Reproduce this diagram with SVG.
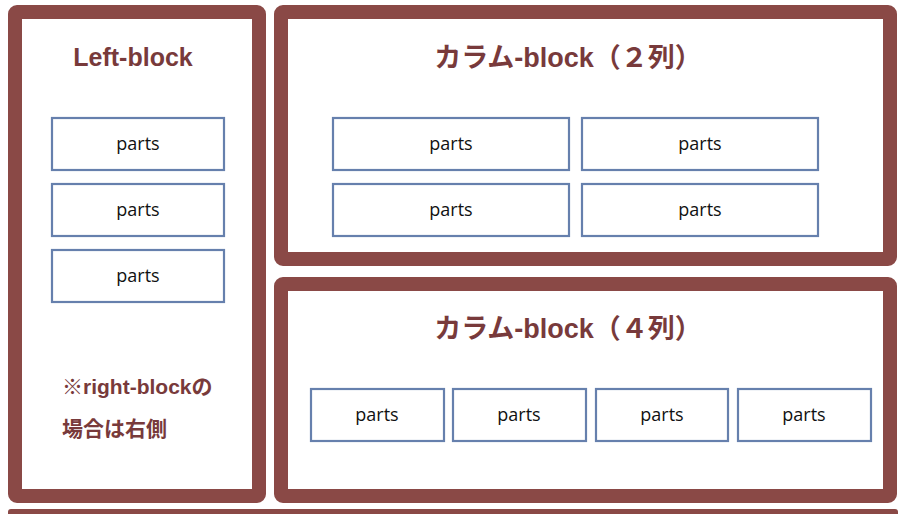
<svg xmlns="http://www.w3.org/2000/svg" width="910" height="514" viewBox="0 0 910 514">
<style>
.blk{fill:#fff;stroke:#8a4946;stroke-width:14;stroke-linejoin:round}
.prt{fill:#fff;stroke:#6680ad;stroke-width:2.2}
.ttl{font-family:"Liberation Sans","Noto Sans CJK JP",sans-serif;font-weight:bold;fill:#783a3b}
.pt{font-family:"Open Sans","Liberation Sans",sans-serif;font-size:18px;fill:#111;text-anchor:middle}
</style>
<rect width="910" height="514" fill="#fff"/>
<g id="left-block">
<rect class="blk" x="15" y="12" width="244" height="484" rx="2"/>
<text class="ttl" x="133" y="66" font-size="25" text-anchor="middle">Left-block</text>
<rect class="prt" x="52" y="118" width="172" height="52"/>
<text class="pt" x="138" y="150">parts</text>
<rect class="prt" x="52" y="184" width="172" height="52"/>
<text class="pt" x="138" y="216">parts</text>
<rect class="prt" x="52" y="250" width="172" height="52"/>
<text class="pt" x="138" y="282">parts</text>
<text class="ttl" x="62" y="394" font-size="21">※right-blockの</text>
<text class="ttl" x="62" y="436" font-size="21">場合は右側</text>
</g>
<g id="column-block-2">
<rect class="blk" x="281" y="12" width="609" height="247" rx="2"/>
<text class="ttl" x="568" y="67" font-size="27" text-anchor="middle">カラム-block（２列）</text>
<rect class="prt" x="333" y="118" width="236" height="52"/>
<text class="pt" x="451" y="150">parts</text>
<rect class="prt" x="582" y="118" width="236" height="52"/>
<text class="pt" x="700" y="150">parts</text>
<rect class="prt" x="333" y="184" width="236" height="52"/>
<text class="pt" x="451" y="216">parts</text>
<rect class="prt" x="582" y="184" width="236" height="52"/>
<text class="pt" x="700" y="216">parts</text>
</g>
<g id="column-block-4">
<rect class="blk" x="281" y="284" width="609" height="212" rx="2"/>
<text class="ttl" x="568" y="338" font-size="27" text-anchor="middle">カラム-block（４列）</text>
<rect class="prt" x="311" y="389" width="133" height="52"/>
<text class="pt" x="377" y="421">parts</text>
<rect class="prt" x="453" y="389" width="133" height="52"/>
<text class="pt" x="519" y="421">parts</text>
<rect class="prt" x="596" y="389" width="132" height="52"/>
<text class="pt" x="662" y="421">parts</text>
<rect class="prt" x="738" y="389" width="133" height="52"/>
<text class="pt" x="804" y="421">parts</text>
</g>
<g id="bottom-block">
<rect x="8" y="509" width="890" height="14" rx="3" fill="#8a4946"/>
</g>
<g id="connectors"></g>
</svg>
